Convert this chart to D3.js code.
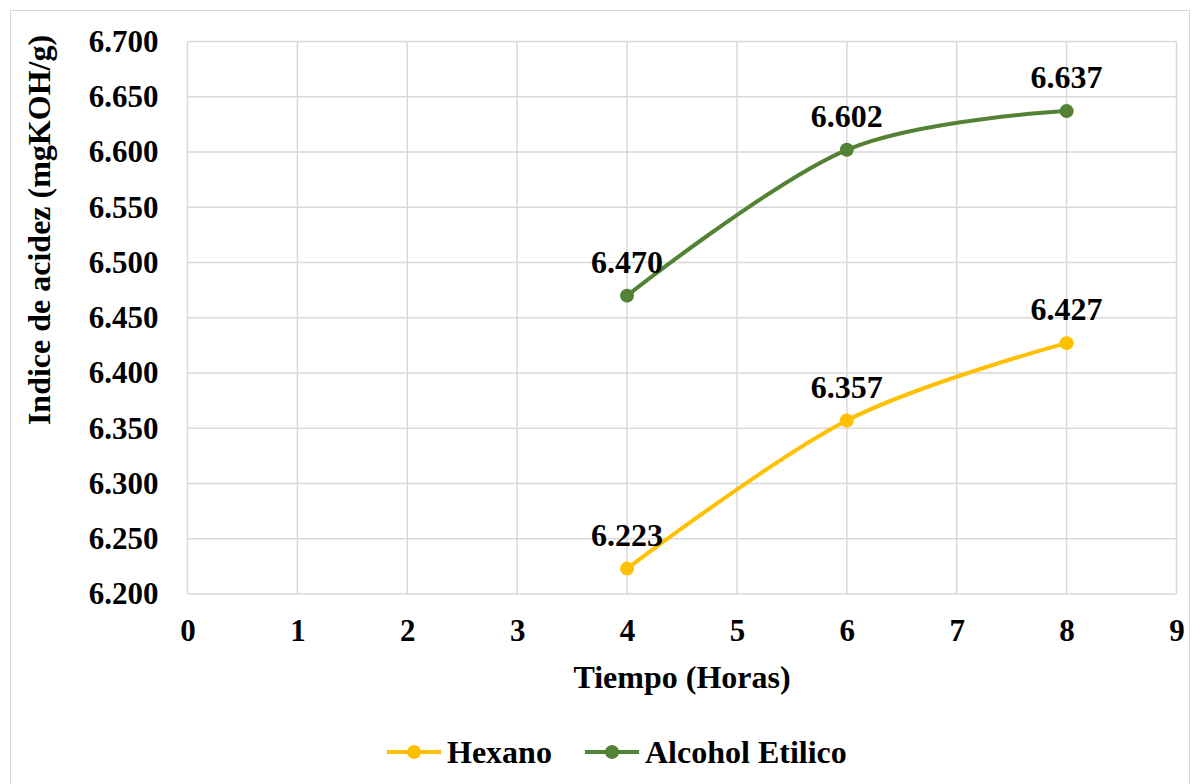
<!DOCTYPE html>
<html>
<head>
<meta charset="utf-8">
<script src="https://cdn.jsdelivr.net/npm/d3@7"></script>
<style>
  html, body { margin: 0; padding: 0; background: #fff; }
  svg { display: block; }
  text { font-family: "Liberation Serif", "Times New Roman", serif; font-weight: bold; fill: #000; }
</style>
</head>
<body>
<svg id="chart" width="1200" height="784"></svg>
<script>
// Acid index over time for two extraction solvents
const hours = [4, 6, 8];
const hexano = [6.223, 6.357, 6.427];
const alcoholEtilico = [6.470, 6.602, 6.637];
const seriesNames = ["Hexano", "Alcohol Etilico"];
const seriesColors = ["#FFC000", "#548235"];
const xTicks = [0, 1, 2, 3, 4, 5, 6, 7, 8, 9];
const yTicks = [6.200, 6.250, 6.300, 6.350, 6.400, 6.450, 6.500, 6.550, 6.600, 6.650, 6.700];

const svg = d3.select("#chart");
const plot = { left: 187.5, right: 1176.5, top: 41.5, bottom: 594 };

// chart frame
svg.append("rect")
  .attr("x", 10.5).attr("y", 10.5)
  .attr("width", 1179).attr("height", 800)
  .attr("fill", "#fff").attr("stroke", "#d9d9d9").attr("stroke-width", 1);

const x = d3.scaleLinear().domain([0, 9]).range([plot.left, plot.right]);
const y = d3.scaleLinear().domain([6.2, 6.7]).range([plot.bottom, plot.top]);

// gridlines
const grid = svg.append("g");
grid.selectAll("line.h").data(yTicks).join("line")
  .attr("x1", plot.left).attr("x2", plot.right)
  .attr("y1", d => y(d)).attr("y2", d => y(d))
  .attr("stroke", "#d9d9d9").attr("stroke-width", 1.5);
grid.selectAll("line.v").data(xTicks).join("line")
  .attr("y1", plot.top).attr("y2", plot.bottom)
  .attr("x1", d => x(d)).attr("x2", d => x(d))
  .attr("stroke", "#d9d9d9").attr("stroke-width", 1.5);

// axes
const xAxis = svg.append("g")
  .attr("transform", `translate(0,${plot.bottom})`)
  .call(d3.axisBottom(x).tickValues(xTicks).tickSize(0).tickPadding(25).tickFormat(d3.format("d")));
xAxis.select(".domain").remove();
xAxis.selectAll("text").style("font-size", "31px").style("font-family", "Liberation Serif, serif").style("font-weight", "bold");

const yAxis = svg.append("g")
  .attr("transform", `translate(${plot.left},0)`)
  .call(d3.axisLeft(y).tickValues(yTicks).tickSize(0).tickPadding(29).tickFormat(d3.format(".3f")));
yAxis.select(".domain").remove();
yAxis.selectAll("text").style("font-size", "31px").style("font-family", "Liberation Serif, serif").style("font-weight", "bold");

// axis titles
svg.append("text")
  .attr("x", x(4.5)).attr("y", 688)
  .attr("text-anchor", "middle")
  .style("font-size", "32px")
  .text("Tiempo (Horas)");

svg.append("text")
  .attr("transform", "translate(50,230) rotate(-90)")
  .attr("text-anchor", "middle")
  .style("font-size", "32px")
  .text("Indice de acidez (mgKOH/g)");

// series
const series = [hexano, alcoholEtilico].map((vals, i) => ({
  name: seriesNames[i], color: seriesColors[i],
  points: hours.map((h, j) => ({ h, v: vals[j] }))
}));

const line = d3.line()
  .x(d => x(d.h)).y(d => y(d.v))
  .curve(d3.curveCardinal.tension(0));

const sg = svg.selectAll("g.series").data(series).join("g").attr("class", "series");
sg.append("path")
  .attr("d", d => line(d.points))
  .attr("fill", "none")
  .attr("stroke", d => d.color)
  .attr("stroke-width", 4)
  .attr("stroke-linecap", "round");
sg.each(function(s) {
  const g = d3.select(this);
  g.selectAll("circle").data(s.points).join("circle")
    .attr("cx", d => x(d.h)).attr("cy", d => y(d.v))
    .attr("r", 7).attr("fill", s.color);
  g.selectAll("text.lbl").data(s.points).join("text")
    .attr("class", "lbl")
    .attr("x", d => x(d.h)).attr("y", d => y(d.v) - 23)
    .attr("text-anchor", "middle")
    .style("font-size", "32px")
    .text(d => d3.format(".3f")(d.v));
});

// legend
const legendItems = [
  { name: seriesNames[0], color: seriesColors[0], x0: 387 },
  { name: seriesNames[1], color: seriesColors[1], x0: 585 }
];
const lg = svg.selectAll("g.legend").data(legendItems).join("g").attr("class", "legend")
  .attr("transform", d => `translate(${d.x0},752)`);
lg.append("line").attr("x1", 0).attr("x2", 54).attr("y1", 0).attr("y2", 0)
  .attr("stroke", d => d.color).attr("stroke-width", 4);
lg.append("circle").attr("cx", 27).attr("cy", 0).attr("r", 7).attr("fill", d => d.color);
lg.append("text").attr("x", 60).attr("y", 11)
  .style("font-size", "32px")
  .text(d => d.name);
</script>
</body>
</html>
